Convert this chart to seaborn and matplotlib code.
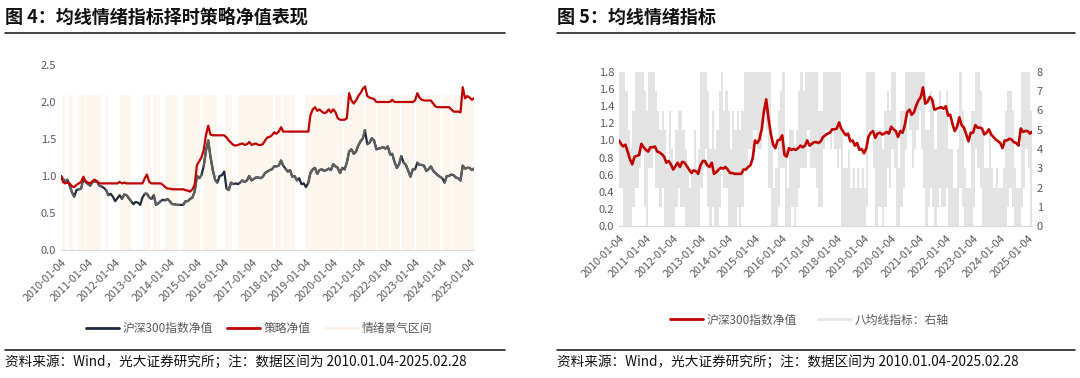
import matplotlib
matplotlib.use("Agg")
import matplotlib.pyplot as plt
from matplotlib.lines import Line2D
import numpy as np
import pandas as pd
import seaborn as sns

# Data (month-end readings, first point = 2010-01-04)
START_DATE = "2010-01-04"
END_DATE = "2025-02-28"

CSI300_NAV = [1.00,
    0.96, 0.93, 0.95, 0.87, 0.78, 0.72, 0.81, 0.82, 0.83, 0.96, 0.92, 0.89,
    0.87, 0.92, 0.92, 0.93, 0.87, 0.86, 0.84, 0.81, 0.74, 0.76, 0.72, 0.66,
    0.70, 0.74, 0.69, 0.75, 0.74, 0.70, 0.66, 0.62, 0.65, 0.64, 0.61, 0.71,
    0.76, 0.76, 0.71, 0.69, 0.74, 0.61, 0.63, 0.66, 0.68, 0.67, 0.69, 0.66,
    0.62, 0.62, 0.61, 0.61, 0.61, 0.61, 0.66, 0.66, 0.69, 0.71, 0.79, 1.00,
    0.97, 1.01, 1.13, 1.34, 1.48, 1.26, 1.08, 0.95, 0.91, 1.00, 1.01, 1.06,
    0.83, 0.81, 0.91, 0.89, 0.90, 0.89, 0.91, 0.94, 0.92, 0.94, 1.00, 0.94,
    0.96, 0.98, 0.98, 0.97, 0.99, 1.04, 1.06, 1.08, 1.09, 1.13, 1.13, 1.14,
    1.21, 1.14, 1.10, 1.06, 1.08, 0.99, 1.00, 0.94, 0.97, 0.89, 0.90, 0.85,
    0.91, 1.04, 1.09, 1.11, 1.03, 1.08, 1.09, 1.07, 1.08, 1.10, 1.08, 1.16,
    1.13, 1.11, 1.04, 1.11, 1.09, 1.18, 1.33, 1.36, 1.30, 1.33, 1.41, 1.47,
    1.51, 1.62, 1.43, 1.45, 1.51, 1.48, 1.36, 1.37, 1.38, 1.39, 1.37, 1.40,
    1.29, 1.30, 1.19, 1.11, 1.16, 1.27, 1.18, 1.15, 1.07, 0.99, 1.09, 1.09,
    1.18, 1.15, 1.15, 1.14, 1.07, 1.09, 1.13, 1.07, 1.04, 1.01, 0.99, 0.97,
    0.91, 1.00, 1.00, 1.02, 1.01, 0.98, 0.97, 0.94, 1.14, 1.10, 1.11, 1.11,
    1.08, 1.10]

STRATEGY_NAV = [1.00,
    0.92, 0.90, 0.91, 0.90, 0.86, 0.85, 0.88, 0.90, 0.92, 0.99, 0.93, 0.91,
    0.90, 0.93, 0.95, 0.93, 0.90, 0.90, 0.90, 0.90, 0.90, 0.90, 0.90, 0.90,
    0.90, 0.92, 0.90, 0.91, 0.90, 0.90, 0.90, 0.90, 0.90, 0.90, 0.90, 0.90,
    0.97, 1.02, 0.92, 0.90, 0.90, 0.90, 0.90, 0.90, 0.88, 0.85, 0.83, 0.83,
    0.82, 0.82, 0.82, 0.82, 0.82, 0.82, 0.81, 0.80, 0.79, 0.82, 0.88, 1.15,
    1.20, 1.25, 1.35, 1.55, 1.68, 1.56, 1.55, 1.55, 1.55, 1.55, 1.55, 1.55,
    1.52, 1.48, 1.45, 1.42, 1.41, 1.42, 1.43, 1.44, 1.42, 1.43, 1.46, 1.42,
    1.43, 1.44, 1.42, 1.42, 1.43, 1.48, 1.52, 1.53, 1.55, 1.59, 1.57, 1.60,
    1.66, 1.60, 1.60, 1.60, 1.60, 1.60, 1.60, 1.60, 1.60, 1.60, 1.60, 1.60,
    1.60, 1.82, 1.90, 1.93, 1.88, 1.90, 1.87, 1.85, 1.86, 1.90, 1.86, 1.90,
    1.86, 1.78, 1.76, 1.76, 1.76, 1.78, 2.12, 2.02, 1.98, 2.02, 2.08, 2.12,
    2.18, 2.21, 2.08, 2.06, 2.05, 2.04, 2.00, 2.00, 2.00, 2.00, 2.00, 2.00,
    2.00, 2.03, 2.00, 2.00, 2.00, 2.00, 2.00, 2.00, 2.00, 2.00, 2.00, 2.02,
    2.12, 2.06, 2.03, 2.02, 2.02, 2.02, 2.02, 1.98, 1.94, 1.93, 1.93, 1.93,
    1.93, 1.93, 1.93, 1.90, 1.87, 1.87, 1.87, 1.86, 2.20, 2.05, 2.08, 2.06,
    2.03, 2.05]

# 八均线指标: monthly max / min of the daily indicator
MA8_HIGH = [8,
    8, 8, 7, 5, 4, 6, 8, 8, 8, 8, 7, 6,
    8, 8, 8, 7, 6, 5, 6, 5, 3, 6, 4, 3,
    5, 6, 6, 5, 4, 3, 2, 3, 5, 3, 4, 8,
    8, 8, 7, 4, 6, 4, 5, 7, 8, 6, 7, 6,
    4, 6, 5, 6, 5, 6, 8, 8, 8, 8, 8, 8,
    8, 8, 8, 8, 8, 8, 4, 2, 3, 6, 7, 8,
    4, 2, 5, 5, 4, 5, 7, 8, 7, 8, 8, 8,
    8, 8, 8, 6, 6, 8, 8, 8, 8, 8, 8, 8,
    8, 5, 3, 3, 4, 2, 3, 2, 3, 2, 3, 2,
    8, 8, 8, 8, 5, 5, 5, 4, 6, 7, 6, 8,
    8, 5, 3, 6, 6, 8, 8, 8, 8, 8, 8, 8,
    8, 8, 5, 5, 7, 6, 4, 6, 7, 6, 6, 7,
    4, 4, 2, 2, 4, 8, 6, 3, 2, 2, 6, 6,
    8, 8, 7, 5, 3, 3, 5, 3, 2, 3, 2, 2,
    3, 6, 7, 7, 6, 3, 2, 2, 8, 8, 8, 8,
    6, 8]
MA8_LOW = [2,
    2, 0, 0, 0, 0, 1, 2, 2, 3, 4, 1, 0,
    3, 3, 4, 2, 2, 1, 2, 0, 0, 0, 0, 0,
    1, 2, 1, 1, 0, 0, 0, 0, 0, 0, 0, 2,
    3, 4, 1, 0, 1, 0, 0, 1, 3, 2, 2, 0,
    0, 0, 0, 1, 0, 1, 3, 3, 4, 4, 5, 5,
    4, 4, 5, 6, 5, 2, 0, 0, 0, 1, 3, 3,
    0, 0, 0, 1, 0, 1, 2, 3, 3, 3, 5, 3,
    3, 3, 2, 1, 1, 4, 5, 5, 4, 5, 4, 3,
    4, 0, 0, 0, 0, 0, 0, 0, 0, 0, 0, 0,
    1, 5, 5, 3, 0, 1, 1, 0, 1, 3, 2, 4,
    3, 0, 0, 1, 2, 4, 6, 5, 3, 4, 5, 6,
    4, 2, 0, 1, 2, 1, 0, 1, 2, 1, 1, 2,
    0, 0, 0, 0, 0, 2, 1, 0, 0, 0, 0, 1,
    4, 3, 2, 0, 0, 0, 0, 0, 0, 0, 0, 0,
    0, 0, 1, 2, 1, 0, 0, 0, 1, 2, 4, 3,
    0, 2]

# 情绪景气区间 (start, end)
REGIME_STARTS = ["2010-01-20", "2010-04-25", "2010-08-15", "2010-12-01", "2011-08-10",
                 "2012-03-10", "2013-01-05", "2013-05-20", "2013-10-25", "2014-06-25",
                 "2015-03-20", "2016-01-10", "2016-07-05", "2017-11-15", "2018-03-01",
                 "2019-01-05", "2020-05-20", "2021-03-10", "2021-08-20", "2022-02-15",
                 "2022-07-10", "2023-01-10", "2023-07-25", "2024-01-05", "2024-05-15"]
REGIME_ENDS = ["2010-03-05", "2010-06-10", "2010-11-15", "2011-06-20", "2011-09-25",
               "2012-07-25", "2013-04-10", "2013-08-20", "2014-04-20", "2015-02-10",
               "2015-09-25", "2016-04-15", "2017-10-15", "2018-02-15", "2018-08-05",
               "2020-04-20", "2021-02-10", "2021-07-20", "2022-01-10", "2022-06-10",
               "2022-12-20", "2023-06-30", "2023-12-01", "2024-04-20", "2025-02-28"]
REGIME_LEVEL = 2.1

TICK_YEARS = list(range(2010, 2026))

TITLE_LEFT = "图 4：均线情绪指标择时策略净值表现"
TITLE_RIGHT = "图 5：均线情绪指标"
SOURCE = "资料来源：Wind，光大证券研究所；注：数据区间为 2010.01.04-2025.02.28"

# Styles
RED = "#C00000"
DARK = "#1F2A3A"
MID_GRAY = "#5F5F5F"
SHADE = "#FDF6EF"
IND_GRAY = "#E3E3E3"
TEXT = "#595959"
AXIS = "#D9D9D9"


def build_frame() -> pd.DataFrame:
    dates = [pd.Timestamp(START_DATE)] + list(pd.date_range("2010-01-31", END_DATE, freq="ME"))
    df = pd.DataFrame({"date": dates, "csi300": CSI300_NAV, "strategy": STRATEGY_NAV,
                       "ma8_high": MA8_HIGH, "ma8_low": MA8_LOW})
    starts = pd.to_datetime(REGIME_STARTS)
    ends = pd.to_datetime(REGIME_ENDS)
    df["regime"] = [any((s <= d) & (d <= e) for s, e in zip(starts, ends)) for d in df["date"]]
    return df


def regime_segments(df: pd.DataFrame) -> pd.DataFrame:
    """Rows of the index line lying in the regime, with a segment id so lines do not bridge gaps."""
    flags = df["regime"].to_numpy()
    seg = np.cumsum(np.r_[True, flags[1:] != flags[:-1]])
    out = df.assign(seg=seg)
    # the point after a regime run joins the run
    after = np.r_[False, flags[:-1] & ~flags[1:]]
    out.loc[after, "seg"] -= 1
    return out[flags | after]


def style_date_axis(ax):
    ticks = pd.to_datetime([f"{y}-01-04" for y in TICK_YEARS])
    ax.set_xticks(ticks)
    ax.set_xticklabels([t.strftime("%Y-%m-%d") for t in ticks], rotation=45,
                       ha="right", rotation_mode="anchor", fontsize=7.8, color=TEXT)
    ax.set_xlim(pd.Timestamp(START_DATE), pd.Timestamp(END_DATE))
    ax.set_xlabel("")
    ax.set_ylabel("")
    for side in ["top", "right", "left"]:
        ax.spines[side].set_visible(False)
    ax.spines["bottom"].set_color(AXIS)
    ax.tick_params(axis="x", length=3, color=AXIS, pad=2)
    ax.tick_params(axis="y", length=0, labelsize=8, labelcolor=TEXT)


def draw_left(ax, df):
    starts = pd.to_datetime(REGIME_STARTS)
    ends = pd.to_datetime(REGIME_ENDS)
    for s, e in zip(starts, ends):
        ax.axvspan(s, e, ymin=0, ymax=REGIME_LEVEL / 2.5, color=SHADE, lw=0, zorder=0)
    sns.lineplot(data=df, x="date", y="csi300", color=DARK, lw=1.6, ax=ax, zorder=2)
    seg = regime_segments(df)
    sns.lineplot(data=seg, x="date", y="csi300", units="seg", estimator=None,
                 color=MID_GRAY, lw=1.6, ax=ax, zorder=3)
    sns.lineplot(data=df, x="date", y="strategy", color=RED, lw=1.6, ax=ax, zorder=4)
    ax.set_ylim(0, 2.5)
    ax.set_yticks(np.arange(0, 2.51, 0.5))
    ax.set_yticklabels([f"{v:.1f}" for v in np.arange(0, 2.51, 0.5)])
    style_date_axis(ax)
    handles = [Line2D([], [], color=DARK, lw=2), Line2D([], [], color=RED, lw=2),
               Line2D([], [], color="#FBF0E6", lw=2)]
    ax.legend(handles, ["沪深300指数净值", "策略净值", "情绪景气区间"], ncol=3,
              loc="upper center", bbox_to_anchor=(0.48, -0.33), frameon=False,
              fontsize=8.5, labelcolor=TEXT, handlelength=2.8, columnspacing=1.2,
              handletextpad=0.3)


def draw_right(ax, df):
    ax2 = ax.twinx()
    ax2.fill_between(df["date"], df["ma8_low"], df["ma8_high"], step="post",
                     color=IND_GRAY, lw=0)
    ax2.set_ylim(0, 8)
    ax2.set_yticks(range(0, 9))
    ax2.set_ylabel("")
    for side in ["top", "right", "left", "bottom"]:
        ax2.spines[side].set_visible(False)
    ax2.tick_params(axis="y", length=0, labelsize=8, labelcolor=TEXT)
    ax.set_zorder(ax2.get_zorder() + 1)
    ax.patch.set_visible(False)

    sns.lineplot(data=df, x="date", y="csi300", color=RED, lw=1.9, ax=ax)
    ax.set_ylim(0, 1.8)
    ax.set_yticks(np.arange(0, 1.81, 0.2))
    ax.set_yticklabels([f"{v:.1f}" for v in np.arange(0, 1.81, 0.2)])
    style_date_axis(ax)
    handles = [Line2D([], [], color=RED, lw=2), Line2D([], [], color="#E6E6E6", lw=2)]
    ax.legend(handles, ["沪深300指数净值", "八均线指标：右轴"], ncol=2,
              loc="upper center", bbox_to_anchor=(0.46, -0.50), frameon=False,
              fontsize=8.5, labelcolor=TEXT, handlelength=2.8, columnspacing=1.8,
              handletextpad=0.3)


def draw_frame_text(fig):
    fig.text(5 / 1080, 1 - 17 / 378, TITLE_LEFT, fontsize=13, fontweight="bold",
             va="center", ha="left", color="#111111")
    fig.text(557 / 1080, 1 - 17 / 378, TITLE_RIGHT, fontsize=13, fontweight="bold",
             va="center", ha="left", color="#111111")
    for x0, x1 in [(5, 505), (557, 1075)]:
        for y in (33, 350):
            fig.add_artist(Line2D([x0 / 1080, x1 / 1080], [1 - y / 378] * 2,
                                  color="#222222", lw=1.2))
    fig.text(5 / 1080, 1 - 362 / 378, SOURCE, fontsize=9.8, va="center", ha="left",
             color="#111111")
    fig.text(557 / 1080, 1 - 362 / 378, SOURCE, fontsize=9.8, va="center", ha="left",
             color="#111111")


if __name__ == "__main__":
    sns.set_style("white")
    plt.rcParams["font.family"] = ["Noto Sans CJK SC", "DejaVu Sans"]
    plt.rcParams["axes.unicode_minus"] = False

    data = build_frame()
    fig = plt.figure(figsize=(10.8, 3.78), dpi=100)
    ax_left = fig.add_axes([61 / 1080, 1 - 250 / 378, 413 / 1080, 185 / 378])
    ax_right = fig.add_axes([619 / 1080, 1 - 226 / 378, 413 / 1080, 154 / 378])
    draw_left(ax_left, data)
    draw_right(ax_right, data)
    draw_frame_text(fig)
    fig.savefig("out.png", dpi=100)
